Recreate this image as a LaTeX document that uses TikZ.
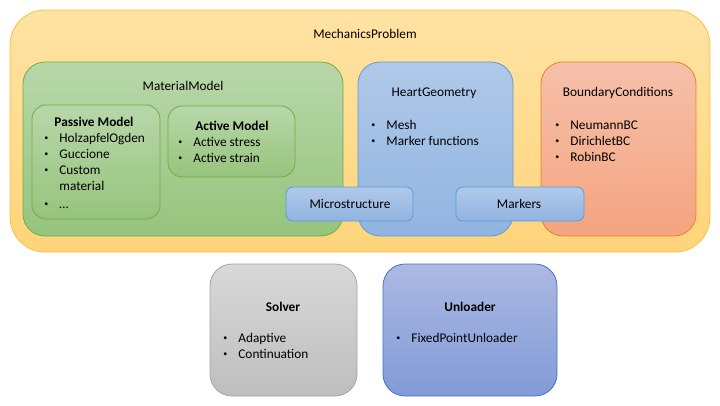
\documentclass[tikz,border=0pt]{standalone}
\usepackage{fontspec}
\setmainfont{Carlito}
\usepackage{tikz}
\usetikzlibrary{positioning}

\definecolor{probtop}{RGB}{255,227,163}
\definecolor{probbot}{RGB}{255,212,122}
\definecolor{probline}{RGB}{248,194,59}
\definecolor{mattop}{RGB}{184,215,170}
\definecolor{matbot}{RGB}{150,196,124}
\definecolor{matline}{RGB}{112,173,71}
\definecolor{geotop}{RGB}{176,201,233}
\definecolor{geobot}{RGB}{145,180,224}
\definecolor{geoline}{RGB}{91,155,213}
\definecolor{bctop}{RGB}{246,192,170}
\definecolor{bcbot}{RGB}{244,164,128}
\definecolor{bcline}{RGB}{237,125,49}
\definecolor{soltop}{RGB}{216,216,216}
\definecolor{solbot}{RGB}{190,190,190}
\definecolor{solline}{RGB}{165,165,165}
\definecolor{unltop}{RGB}{172,185,226}
\definecolor{unlbot}{RGB}{130,155,215}
\definecolor{unlline}{RGB}{68,114,196}

\newcommand{\itm}[1]{\makebox[15pt][l]{\raisebox{1.5pt}{\fontsize{8}{8}\selectfont\textbullet}}#1}

\begin{document}
\begin{tikzpicture}[x=1pt,y=-1pt,line width=0.8pt,
    every node/.style={font=\fontsize{13.3}{16}\selectfont},
    box/.style={draw,rounded corners=#1,inner sep=0pt},
    prob/.style={box=35pt,top color=probtop,bottom color=probbot,draw=probline},
    mat/.style={box=22pt,top color=mattop,bottom color=matbot,draw=matline},
    sub/.style={box=14pt,top color=mattop,bottom color=matbot,draw=matline},
    geo/.style={box=22pt,top color=geotop,bottom color=geobot,draw=geoline},
    tab/.style={box=7pt,top color=geotop,bottom color=geobot,draw=geoline},
    bc/.style={box=22pt,top color=bctop,bottom color=bcbot,draw=bcline},
    sol/.style={box=22pt,top color=soltop,bottom color=solbot,draw=solline},
    unl/.style={box=22pt,top color=unltop,bottom color=unlbot,draw=unlline},
    title/.style={anchor=base,inner sep=0pt},
    list/.style={anchor=base west,inner sep=0pt}]
  \useasboundingbox (0,0) rectangle (720,405);

  \node[prob, minimum width=700pt, minimum height=242pt] (problem) at (360,131) {};
  \node[title] (problemlbl) at (365,38) {MechanicsProblem};

  % material model with passive and active parts
  \node[mat, minimum width=320pt, minimum height=174pt] (material) at (183,149) {};
  \node[title] (materiallbl) at (183,90) {MaterialModel};
  \node[sub, minimum width=128pt, minimum height=114pt] (passive) at (96,162) {};
  \node[sub, minimum width=127pt, minimum height=71pt] (active) at (231.5,141.5) {};
  \node[title] (passivelbl) at (94,126) {\bfseries Passive Model};
  \node[list] (passivelist) at (44,142) {\begin{tabular}[t]{@{}l@{}}
      \itm{HolzapfelOgden}\\ \itm{Guccione}\\ \itm{Custom}\\
      \hspace*{15pt}material\\[2pt] \itm{…}\end{tabular}};
  \node[title] (activelbl) at (232,130) {\bfseries Active Model};
  \node[list] (activelist) at (178,146) {\begin{tabular}[t]{@{}l@{}}
      \itm{Active stress}\\ \itm{Active strain}\end{tabular}};

  % geometry and boundary conditions
  \node[geo, minimum width=155pt, minimum height=174pt] (geometry) at (435.5,149) {};
  \node[title] (geometrylbl) at (434,96) {HeartGeometry};
  \node[list] (geometrylist) at (371,129) {\begin{tabular}[t]{@{}l@{}}
      \itm{Mesh}\\ \itm{Marker functions}\end{tabular}};
  \node[bc, minimum width=155pt, minimum height=174pt] (bcs) at (618.5,149) {};
  \node[title] (bcslbl) at (618,96) {BoundaryConditions};
  \node[list] (bcslist) at (555,129) {\begin{tabular}[t]{@{}l@{}}
      \itm{NeumannBC}\\ \itm{DirichletBC}\\ \itm{RobinBC}\end{tabular}};

  \node[tab, minimum width=127pt, minimum height=34pt] (micro) at (349.5,204) {};
  \node[title] (microlbl) at (350,208) {Microstructure};
  \node[tab, minimum width=128pt, minimum height=34pt] (markers) at (520,204) {};
  \node[title] (markerslbl) at (519,208) {Markers};

  % solver and unloader
  \node[sol, minimum width=147pt, minimum height=132pt] (solver) at (283.5,330) {};
  \node[title] (solverlbl) at (283,311) {\bfseries Solver};
  \node[list] (solverlist) at (223,342) {\begin{tabular}[t]{@{}l@{}}
      \itm{Adaptive}\\ \itm{Continuation}\end{tabular}};
  \node[unl, minimum width=174pt, minimum height=132pt] (unloader) at (470,330) {};
  \node[title] (unloaderlbl) at (470,311) {\bfseries Unloader};
  \node[list] (unloaderlist) at (396,342) {\begin{tabular}[t]{@{}l@{}}
      \itm{FixedPointUnloader}\end{tabular}};
\end{tikzpicture}
\end{document}
